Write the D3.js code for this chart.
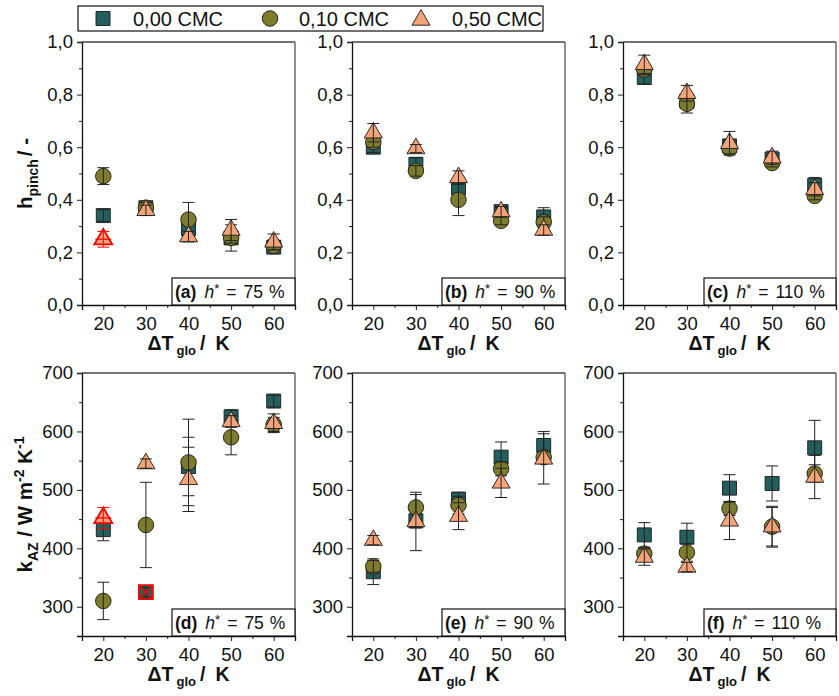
<!DOCTYPE html>
<html>
<head>
<meta charset="utf-8">
<script src="https://cdn.jsdelivr.net/npm/d3@7"></script>
<style>
  body { margin: 0; background: #fff; }
  svg { display: block; font-family: "Liberation Sans", Arial, sans-serif; }
</style>
</head>
<body>
<svg id="chart" width="839" height="696"></svg>
<script>
// Temperature difference categories (K)
const dT = [20, 30, 40, 50, 60];
const seriesNames = ["0,00 CMC", "0,10 CMC", "0,50 CMC"];
const hLevels = ["75", "90", "110"];

// Pinch height h_pinch (-) — mean values and errors
const hp75_000 = [0.34, 0.37, 0.29, 0.255, 0.22];
const hp75_010 = [0.49, 0.37, 0.325, 0.255, 0.225];
const hp75_050 = [0.25, 0.36, 0.26, 0.285, 0.24];
const hp75_000_err = [0.022, 0.015, 0.025, 0.05, 0.012];
const hp75_010_err = [0.032, 0.02, 0.065, 0.02, 0.015];
const hp75_050_err = [0.03, 0.02, 0.02, 0.04, 0.03];

const hp90_000 = [0.60, 0.535, 0.445, 0.355, 0.335];
const hp90_010 = [0.62, 0.51, 0.40, 0.32, 0.315];
const hp90_050 = [0.655, 0.595, 0.485, 0.355, 0.285];
const hp90_000_err = [0.02, 0.025, 0.025, 0.015, 0.035];
const hp90_010_err = [0.02, 0.02, 0.06, 0.015, 0.02];
const hp90_050_err = [0.035, 0.015, 0.025, 0.02, 0.02];

const hp110_000 = [0.865, 0.775, 0.605, 0.555, 0.455];
const hp110_010 = [0.895, 0.765, 0.595, 0.54, 0.415];
const hp110_050 = [0.915, 0.805, 0.615, 0.56, 0.44];
const hp110_000_err = [0.025, 0.025, 0.02, 0.015, 0.03];
const hp110_010_err = [0.02, 0.035, 0.02, 0.015, 0.015];
const hp110_050_err = [0.035, 0.03, 0.045, 0.025, 0.025];

// Heat transfer coefficient k_AZ (W m^-2 K^-1) — mean values and errors
const k75_000 = [432, 325, 540, 625, 652];
const k75_010 = [310, 440, 547, 590, 612];
const k75_050 = [452, 545, 518, 617, 614];
const k75_000_err = [19, 8, 50, 12, 10];
const k75_010_err = [32, 73, 74, 30, 12];
const k75_050_err = [18, 8, 55, 10, 16];

const k90_000 = [360, 447, 484, 556, 576];
const k90_010 = [369, 470, 474, 536, 556];
const k90_050 = [414, 446, 455, 512, 553];
const k90_000_err = [22, 12, 12, 26, 24];
const k90_010_err = [10, 22, 15, 12, 10];
const k90_050_err = [8, 50, 23, 25, 43];

const k110_000 = [423, 419, 503, 511, 572];
const k110_010 = [391, 393, 468, 437, 528];
const k110_050 = [385, 368, 447, 437, 522];
const k110_000_err = [21, 24, 23, 30, 47];
const k110_010_err = [10, 15, 12, 33, 15];
const k110_050_err = [14, 8, 32, 35, 37];

// Axis ticks
const hTicks = [0, 0.2, 0.4, 0.6, 0.8, 1.0];
const kTicks = [300, 400, 500, 600, 700];

// Points flagged in red (outliers)
const redPoints = [{ panel: "a", series: 2, x: 20 }, { panel: "d", series: 2, x: 20 }];
const crossedPoints = [{ panel: "d", series: 0, x: 30 }];

const colors = ["#245f5e", "#7f7b2c", "#f5a47a"];
const symbols = [d3.symbolSquare, d3.symbolCircle, d3.symbolTriangle];
const symSizes = [196, 190, 140];

const panels = [
  { id: "a", h: hLevels[0], kind: "h", vals: [hp75_000, hp75_010, hp75_050], errs: [hp75_000_err, hp75_010_err, hp75_050_err] },
  { id: "b", h: hLevels[1], kind: "h", vals: [hp90_000, hp90_010, hp90_050], errs: [hp90_000_err, hp90_010_err, hp90_050_err] },
  { id: "c", h: hLevels[2], kind: "h", vals: [hp110_000, hp110_010, hp110_050], errs: [hp110_000_err, hp110_010_err, hp110_050_err] },
  { id: "d", h: hLevels[0], kind: "k", vals: [k75_000, k75_010, k75_050], errs: [k75_000_err, k75_010_err, k75_050_err] },
  { id: "e", h: hLevels[1], kind: "k", vals: [k90_000, k90_010, k90_050], errs: [k90_000_err, k90_010_err, k90_050_err] },
  { id: "f", h: hLevels[2], kind: "k", vals: [k110_000, k110_010, k110_050], errs: [k110_000_err, k110_010_err, k110_050_err] }
];

const svg = d3.select("#chart");
const colX = [82, 352, 623];
const rowY = [42, 373];
const pw = 213, ph = 263;
const fmtComma = v => d3.format(".1f")(v).replace(".", ",");

panels.forEach((p, i) => {
  const col = i % 3, row = Math.floor(i / 3);
  const g = svg.append("g").attr("transform", `translate(${colX[col]},${rowY[row]})`);

  const x = d3.scaleLinear().domain([15, 65]).range([0, pw]);
  const y = p.kind === "h"
    ? d3.scaleLinear().domain([0, 1]).range([ph, 0])
    : d3.scaleLinear().domain([250, 700]).range([ph, 0]);

  // Minor ticks
  const xMinor = d3.range(15, 66, 10);
  const yMinor = p.kind === "h" ? d3.range(0.1, 1.0, 0.2) : d3.range(250, 700, 100);
  g.append("g").attr("transform", `translate(0,${ph})`)
    .call(d3.axisBottom(x).tickValues(xMinor).tickSize(3).tickFormat(""))
    .call(a => a.select(".domain").remove())
    .selectAll("line").attr("stroke", "#222");
  g.append("g")
    .call(d3.axisLeft(y).tickValues(yMinor).tickSize(3).tickFormat(""))
    .call(a => a.select(".domain").remove())
    .selectAll("line").attr("stroke", "#222");

  // Major axes
  const xa = g.append("g").attr("transform", `translate(0,${ph})`)
    .call(d3.axisBottom(x).tickValues(dT).tickSize(5).tickPadding(4));
  const ya = g.append("g")
    .call(d3.axisLeft(y).tickValues(p.kind === "h" ? hTicks : kTicks).tickSize(5).tickPadding(4)
      .tickFormat(p.kind === "h" ? fmtComma : d3.format("d")));
  [xa, ya].forEach(a => {
    a.selectAll("text").attr("font-size", 18.5).attr("fill", "#111")
      .attr("font-family", "'Liberation Sans', Arial, sans-serif");
    a.selectAll("line").attr("stroke", "#222");
    a.select(".domain").attr("stroke", "#111").attr("stroke-width", 1.3);
  });
  xa.selectAll("text").attr("dy", "0.85em");
  // Frame top & right
  g.append("line").attr("x1", 0).attr("x2", pw).attr("y1", 0).attr("y2", 0)
    .attr("stroke", "#444").attr("stroke-width", 1.3);
  g.append("line").attr("x1", pw).attr("x2", pw).attr("y1", 0).attr("y2", ph)
    .attr("stroke", "#555").attr("stroke-width", 1.3);

  // Data: markers with error bars, series drawn in order
  p.vals.forEach((vals, s) => {
    const errs = p.errs[s];
    const sg = g.append("g");
    dT.forEach((t, j) => {
      const isRed = redPoints.some(r => r.panel === p.id && r.series === s && r.x === t);
      const isCross = crossedPoints.some(r => r.panel === p.id && r.series === s && r.x === t);
      const cx = x(t), cy = y(vals[j]);
      sg.append("path")
        .attr("d", d3.symbol().type(symbols[s]).size(symSizes[s])())
        .attr("transform", `translate(${cx},${cy})`)
        .attr("fill", colors[s])
        .attr("stroke", isRed || isCross ? "#f00" : "#1a1a1a")
        .attr("stroke-width", isRed || isCross ? 1.8 : 0.9);
      const ec = isRed ? "#f00" : "#222";
      const y1 = y(vals[j] - errs[j]), y2 = y(vals[j] + errs[j]);
      sg.append("line").attr("x1", cx).attr("x2", cx).attr("y1", y1).attr("y2", y2)
        .attr("stroke", ec).attr("stroke-width", 1);
      [y1, y2].forEach(yy => sg.append("line")
        .attr("x1", cx - 6).attr("x2", cx + 6).attr("y1", yy).attr("y2", yy)
        .attr("stroke", ec).attr("stroke-width", 1));
      if (isRed) {
        sg.append("line").attr("x1", cx - 8).attr("x2", cx + 8).attr("y1", cy).attr("y2", cy)
          .attr("stroke", "#f00").attr("stroke-width", 1.2);
      }
      if (isCross) {
        sg.append("path")
          .attr("d", `M${cx - 6},${cy - 6}L${cx + 6},${cy + 6}M${cx + 6},${cy - 6}L${cx - 6},${cy + 6}`)
          .attr("stroke", "#f00").attr("stroke-width", 1.5);
      }
    });
  });

  // Panel label box
  const boxW = p.h === "110" ? 132 : 123;
  const lb = g.append("g").attr("transform", `translate(${pw - boxW},${ph - 27})`);
  lb.append("rect").attr("width", boxW).attr("height", 27)
    .attr("fill", "#fff").attr("stroke", "#111").attr("stroke-width", 1.2);
  const lt = lb.append("text").attr("x", 3).attr("y", 20).attr("font-size", 17.5).attr("fill", "#111");
  lt.append("tspan").attr("font-weight", "bold").text(`(${p.id})`);
  lt.append("tspan").attr("dx", 8).attr("font-style", "italic").text("h");
  lt.append("tspan").attr("font-size", 13).attr("dy", -5).text("*");
  lt.append("tspan").attr("dy", 5).attr("dx", 7).text("=");
  lt.append("tspan").attr("dx", 7).text(p.h);
  lt.append("tspan").attr("dx", 6).text("%");

  // X axis title
  const xt = g.append("text").attr("x", pw / 2).attr("y", ph + 45)
    .attr("text-anchor", "middle").attr("font-weight", "bold").attr("font-size", 19.5).attr("fill", "#111");
  xt.append("tspan").text("ΔT");
  xt.append("tspan").attr("font-size", 13).attr("dx", 3).attr("dy", 5).text("glo");
  xt.append("tspan").attr("dy", -5).attr("dx", 4).text("/");
  xt.append("tspan").attr("dx", 10).text("K");

  // Y axis titles on the first column
  if (col === 0) {
    const yt = svg.append("text")
      .attr("transform", `translate(32,${rowY[row] + ph / 2}) rotate(-90)`)
      .attr("text-anchor", "middle").attr("font-weight", "bold").attr("font-size", 20.5).attr("fill", "#111");
    if (p.kind === "h") {
      yt.append("tspan").text("h");
      yt.append("tspan").attr("font-size", 14).attr("dy", 6).text("pinch");
      yt.append("tspan").attr("dy", -6).attr("dx", 3).text("/ -");
    } else {
      yt.append("tspan").text("k");
      yt.append("tspan").attr("font-size", 14).attr("dy", 6).text("AZ");
      yt.append("tspan").attr("dy", -6).text(" / W m");
      yt.append("tspan").attr("font-size", 14).attr("dy", -8).text("-2");
      yt.append("tspan").attr("dy", 8).text(" K");
      yt.append("tspan").attr("font-size", 14).attr("dy", -8).text("-1");
    }
  }
});

// Legend
const lg = svg.append("g");
lg.append("rect").attr("x", 78).attr("y", 6).attr("width", 465).attr("height", 25)
  .attr("fill", "#fff").attr("stroke", "#111").attr("stroke-width", 1.2);
const legSymX = [103, 270, 421];
const legTxtX = [133, 299, 452];
seriesNames.forEach((name, s) => {
  lg.append("path")
    .attr("d", d3.symbol().type(symbols[s]).size(symSizes[s])())
    .attr("transform", `translate(${legSymX[s]},${s === 2 ? 20 : 18.5})`)
    .attr("fill", colors[s]).attr("stroke", "#1a1a1a").attr("stroke-width", 0.9);
  lg.append("text").attr("x", legTxtX[s]).attr("y", 26).attr("font-size", 20).attr("fill", "#111").text(name);
});
</script>
</body>
</html>
